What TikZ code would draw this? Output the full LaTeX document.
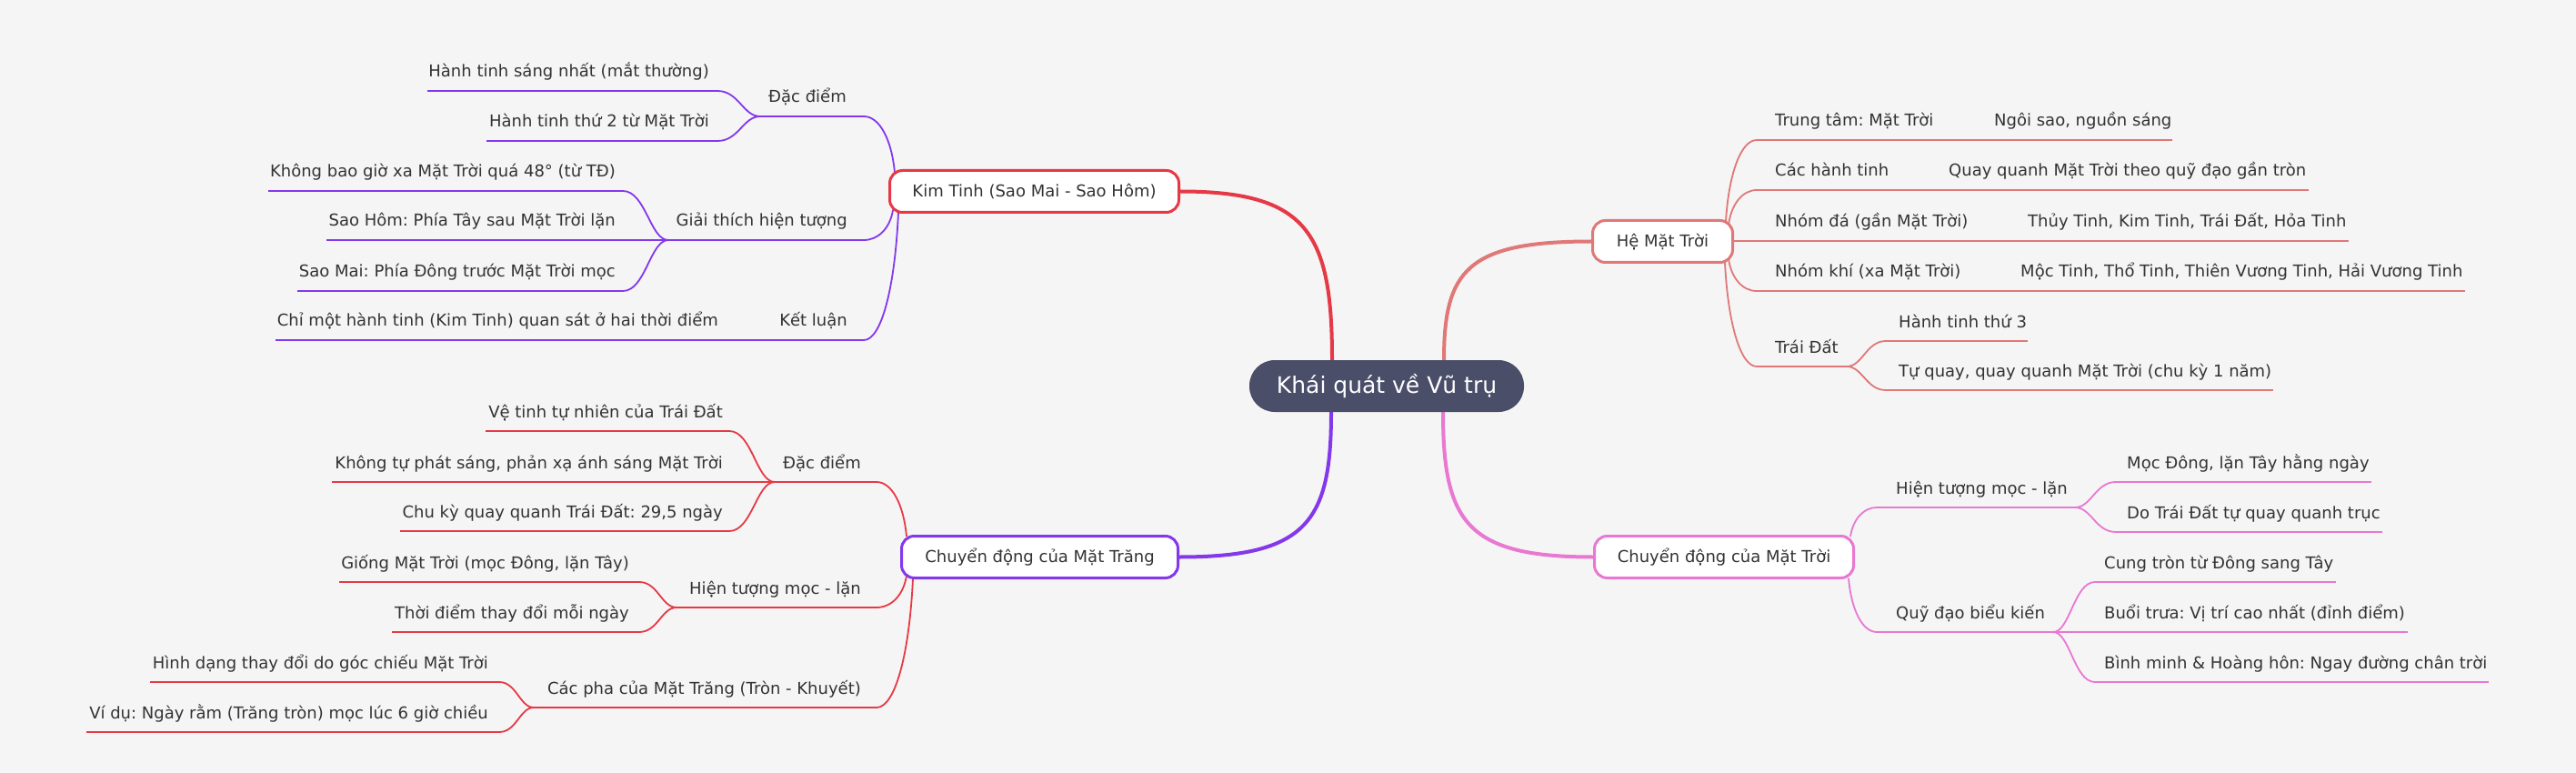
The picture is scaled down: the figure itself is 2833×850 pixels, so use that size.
\documentclass[tikz,border=0pt]{standalone}
\usepackage{fontspec}
\setmainfont{DejaVu Sans}
\usetikzlibrary{calc}
\definecolor{bgc}{HTML}{F5F5F5}
\definecolor{cenc}{HTML}{4A4E69}
\definecolor{cred}{HTML}{E63946}
\definecolor{cpur}{HTML}{8338EC}
\definecolor{csal}{HTML}{E07878}
\definecolor{cpink}{HTML}{E878D2}
\definecolor{txtc}{HTML}{333333}
\pgfdeclarelayer{back}
\pgfdeclarelayer{lines}
\pgfsetlayers{back,lines,main}
\frenchspacing
% underline: color, name, x-left, x-right, y
\newcommand\ul[5]{\coordinate (#2-l) at (#3,#5); \coordinate (#2-r) at (#4,#5);
  \begin{pgfonlayer}{lines}\draw[sub,#1] (#2-l) -- (#2-r);\end{pgfonlayer}}
% curved connector from a main node: color, from, to
\newcommand\conn[3]{\begin{pgfonlayer}{lines}\draw[sub,#1] let \p1=(#2), \p2=(#3) in
  (\p1) .. controls +({0.1*(\x2-\x1)},{0.6*(\y2-\y1)}) and +({-0.5*(\x2-\x1)},0pt) .. (\p2);\end{pgfonlayer}}
% curved connector from a junction to a leaf: color, from, to
\newcommand\lconn[3]{\begin{pgfonlayer}{lines}\draw[sub,#1] let \p1=(#2), \p2=(#3) in
  (\p1) .. controls +({0.4*(\x2-\x1)},0pt) and +({-0.5*(\x2-\x1)},0pt) .. (\p2);\end{pgfonlayer}}
\begin{document}
\begin{tikzpicture}[x=1pt,y=-1pt,
  sub/.style={line width=1.8pt},
  mainln/.style={line width=4pt},
  mainbox/.style={draw, line width=3pt, fill=white, rounded corners=14pt, minimum height=46pt, inner sep=0pt, text=txtc, font=\fontsize{18}{22}\selectfont},
  txt/.style={inner sep=0pt, text=txtc, font=\fontsize{18}{22}\selectfont},
  tl/.style={txt, anchor=base east},
  tr/.style={txt, anchor=base west}]
\begin{pgfonlayer}{back}\fill[bgc] (0,0) rectangle (2833,850);\end{pgfonlayer}
\useasboundingbox (0,0) rectangle (2833,850);

% central
\node[fill=cenc, text=white, rounded corners=28pt, minimum width=302pt, minimum height=57pt, inner sep=0pt, font=\fontsize{25}{30}\selectfont] (cen) at (1525,424.5) {Khái quát về Vũ trụ};

% main nodes
\node[mainbox,draw=cred,minimum width=318pt] (kt) at (1137.5,210.5) {Kim Tinh (Sao Mai - Sao Hôm)};
\node[mainbox,draw=cpur,minimum width=304pt] (mt) at (1143.5,612.5) {Chuyển động của Mặt Trăng};
\node[mainbox,draw=csal,minimum width=154pt] (hm) at (1828.5,265.5) {Hệ Mặt Trời};
\node[mainbox,draw=cpink,minimum width=285pt] (mr) at (1896,612.5) {Chuyển động của Mặt Trời};

\begin{pgfonlayer}{lines}
\draw[mainln,cred] ([xshift=-60pt]cen.north) .. controls (1465,256) and (1438,210.5) .. (kt.east);
\draw[mainln,cpur] ([xshift=-61pt]cen.south) .. controls (1464,574) and (1437,612.5) .. (mt.east);
\draw[mainln,csal] ([xshift=63pt]cen.north) .. controls (1588,297) and (1614,265.5) .. (hm.west);
\draw[mainln,cpink] ([xshift=62pt]cen.south) .. controls (1587,574) and (1613,612.5) .. (mr.west);
\end{pgfonlayer}

% ---- Kim Tinh branch
\coordinate (kt-s1) at (984,190); \coordinate (kt-s2) at (982,231); \coordinate (kt-s3) at (988,233);
\ul{cpur}{kt1}{836}{950}{128} \node[tl] (kt1) at (931,113) {Đặc điểm}; \conn{cpur}{kt-s1}{kt1-r}
\ul{cpur}{kt1a}{470}{789}{100} \node[tl] (kt1a) at (780,85) {Hành tinh sáng nhất (mắt thường)}; \lconn{cpur}{kt1-l}{kt1a-r}
\ul{cpur}{kt1b}{535}{789}{155} \node[tl] (kt1b) at (780,140) {Hành tinh thứ 2 từ Mặt Trời}; \lconn{cpur}{kt1-l}{kt1b-r}
\ul{cpur}{kt2}{735}{950}{264} \node[tl] (kt2) at (932,249) {Giải thích hiện tượng}; \conn{cpur}{kt-s2}{kt2-r}
\ul{cpur}{kt2a}{295}{685}{210} \node[tl] (kt2a) at (677,195) {Không bao giờ xa Mặt Trời quá 48° (từ TĐ)}; \lconn{cpur}{kt2-l}{kt2a-r}
\ul{cpur}{kt2b}{359}{735}{264} \node[tl] (kt2b) at (677,249) {Sao Hôm: Phía Tây sau Mặt Trời lặn};
\ul{cpur}{kt2c}{327}{685}{320} \node[tl] (kt2c) at (677,305) {Sao Mai: Phía Đông trước Mặt Trời mọc}; \lconn{cpur}{kt2-l}{kt2c-r}
\ul{cpur}{kt3}{845}{950}{374} \node[tl] (kt3) at (932,359) {Kết luận}; \conn{cpur}{kt-s3}{kt3-r}
\ul{cpur}{kt3a}{303}{845}{374} \node[tl] (kt3a) at (790,359) {Chỉ một hành tinh (Kim Tinh) quan sát ở hai thời điểm};

% ---- Mat Trang branch
\coordinate (mt-s1) at (997,590); \coordinate (mt-s2) at (997,633); \coordinate (mt-s3) at (1004,636);
\ul{cred}{mt1}{852}{964}{530} \node[tl] (mt1) at (947,515) {Đặc điểm}; \conn{cred}{mt-s1}{mt1-r}
\ul{cred}{mt1a}{534}{802}{474} \node[tl] (mt1a) at (795,459) {Vệ tinh tự nhiên của Trái Đất}; \lconn{cred}{mt1-l}{mt1a-r}
\ul{cred}{mt1b}{365}{852}{530} \node[tl] (mt1b) at (795,515) {Không tự phát sáng, phản xạ ánh sáng Mặt Trời};
\ul{cred}{mt1c}{440}{802}{584} \node[tl] (mt1c) at (795,569) {Chu kỳ quay quanh Trái Đất: 29,5 ngày}; \lconn{cred}{mt1-l}{mt1c-r}
\ul{cred}{mt2}{744}{964}{668} \node[tl] (mt2) at (947,653) {Hiện tượng mọc - lặn}; \conn{cred}{mt-s2}{mt2-r}
\ul{cred}{mt2a}{373}{703}{640} \node[tl] (mt2a) at (692,625) {Giống Mặt Trời (mọc Đông, lặn Tây)}; \lconn{cred}{mt2-l}{mt2a-r}
\ul{cred}{mt2b}{431}{703}{695} \node[tl] (mt2b) at (692,680) {Thời điểm thay đổi mỗi ngày}; \lconn{cred}{mt2-l}{mt2b-r}
\ul{cred}{mt3}{587}{964}{778} \node[tl] (mt3) at (947,763) {Các pha của Mặt Trăng (Tròn - Khuyết)}; \conn{cred}{mt-s3}{mt3-r}
\ul{cred}{mt3a}{165}{549}{750} \node[tl] (mt3a) at (537,735) {Hình dạng thay đổi do góc chiếu Mặt Trời}; \lconn{cred}{mt3-l}{mt3a-r}
\ul{cred}{mt3b}{95}{549}{805} \node[tl] (mt3b) at (537,790) {Ví dụ: Ngày rằm (Trăng tròn) mọc lúc 6 giờ chiều}; \lconn{cred}{mt3-l}{mt3b-r}

% ---- He Mat Troi branch
\coordinate (hm-s1) at (1898,243); \coordinate (hm-s2) at (1901,247); \coordinate (hm-s4) at (1901,285); \coordinate (hm-s5) at (1897,289);
\ul{csal}{hm1}{1932}{2389}{154} \node[tr] (hm1) at (1952,139) {Trung tâm: Mặt Trời}; \node[tr] (hm1a) at (2193,139) {Ngôi sao, nguồn sáng}; \conn{csal}{hm-s1}{hm1-l}
\ul{csal}{hm2}{1932}{2539}{209} \node[tr] (hm2) at (1952,194) {Các hành tinh}; \node[tr] (hm2a) at (2143,194) {Quay quanh Mặt Trời theo quỹ đạo gần tròn}; \conn{csal}{hm-s2}{hm2-l}
\ul{csal}{hm3}{1905}{2583}{265} \node[tr] (hm3) at (1952,250) {Nhóm đá (gần Mặt Trời)}; \node[tr] (hm3a) at (2230,250) {Thủy Tinh, Kim Tinh, Trái Đất, Hỏa Tinh};
\ul{csal}{hm4}{1932}{2711}{320} \node[tr] (hm4) at (1952,305) {Nhóm khí (xa Mặt Trời)}; \node[tr] (hm4a) at (2222,305) {Mộc Tinh, Thổ Tinh, Thiên Vương Tinh, Hải Vương Tinh}; \conn{csal}{hm-s4}{hm4-l}
\ul{csal}{hm5}{1932}{2031}{403} \node[tr] (hm5) at (1952,388) {Trái Đất}; \conn{csal}{hm-s5}{hm5-l}
\ul{csal}{hm5a}{2074}{2230}{375} \node[tr] (hm5a) at (2088,360) {Hành tinh thứ 3}; \lconn{csal}{hm5-r}{hm5a-l}
\ul{csal}{hm5b}{2074}{2500}{429} \node[tr] (hm5b) at (2088,414) {Tự quay, quay quanh Mặt Trời (chu kỳ 1 năm)}; \lconn{csal}{hm5-r}{hm5b-l}

% ---- Mat Troi branch
\coordinate (mr-s1) at (2035,590); \coordinate (mr-s2) at (2033,636);
\ul{cpink}{mr1}{2064}{2282}{558} \node[tr] (mr1) at (2085,543) {Hiện tượng mọc - lặn}; \conn{cpink}{mr-s1}{mr1-l}
\ul{cpink}{mr1a}{2327}{2608}{530} \node[tr] (mr1a) at (2339,515) {Mọc Đông, lặn Tây hằng ngày}; \lconn{cpink}{mr1-r}{mr1a-l}
\ul{cpink}{mr1b}{2327}{2620}{585} \node[tr] (mr1b) at (2339,570) {Do Trái Đất tự quay quanh trục}; \lconn{cpink}{mr1-r}{mr1b-l}
\ul{cpink}{mr2}{2064}{2258}{695} \node[tr] (mr2) at (2085,680) {Quỹ đạo biểu kiến}; \conn{cpink}{mr-s2}{mr2-l}
\ul{cpink}{mr2a}{2304}{2569}{640} \node[tr] (mr2a) at (2314,625) {Cung tròn từ Đông sang Tây}; \lconn{cpink}{mr2-r}{mr2a-l}
\ul{cpink}{mr2b}{2258}{2648}{695} \node[tr] (mr2b) at (2314,680) {Buổi trưa: Vị trí cao nhất (đỉnh điểm)};
\ul{cpink}{mr2c}{2304}{2737}{750} \node[tr] (mr2c) at (2314,735) {Bình minh \& Hoàng hôn: Ngay đường chân trời}; \lconn{cpink}{mr2-r}{mr2c-l}
\end{tikzpicture}
\end{document}
